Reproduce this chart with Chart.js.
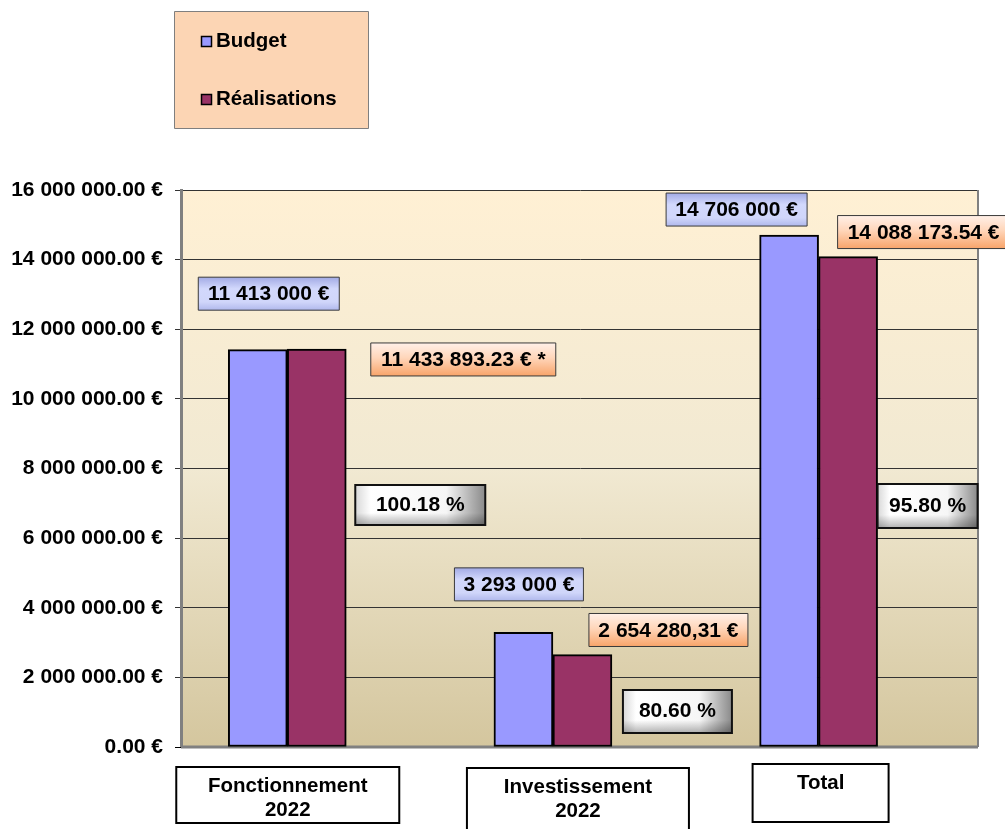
<!DOCTYPE html>
<html>
<head>
<meta charset="utf-8">
<script src="https://cdn.jsdelivr.net/npm/chart.js@4.4.1/dist/chart.umd.min.js"></script>
<style>
  html, body { margin: 0; padding: 0; background: #fff; }
  #wrap { width: 1005px; height: 829px; }
</style>
</head>
<body>
<div id="wrap"><canvas id="chart" width="1005" height="829"></canvas></div>
<script>
// Chart data.
var categories = [['Fonctionnement', '2022'], ['Investissement', '2022'], ['Total']];
var seriesNames = ['Budget', 'Réalisations'];
var budget = [11413000, 3293000, 14706000];
var realisations = [11433893.23, 2654280.31, 14088173.54];
var realisationLabels = ['11 433 893.23 € *', '2 654 280,31 €', '14 088 173.54 €'];
var yTicks = [0, 2000000, 4000000, 6000000, 8000000, 10000000, 12000000, 14000000, 16000000];

// Label placement (pixels, relative to the top centre of the bar).
var budgetLabelPos = [{dx: 11, dy: -56, w: 141}, {dx: -4.5, dy: -48, w: 129}, {dx: -52.5, dy: -25.5, w: 141}];
var realLabelPos = [{dx: 146.5, dy: 10.5, w: 185}, {dx: 86, dy: -24.6, w: 159}, {dx: 75.5, dy: -24.5, w: 172}];
var pctLabelPos = [{dx: 103.5, dy: 156, w: 130, h: 40}, {dx: 95, dy: 57, w: 109, h: 43}, {dx: 79.5, dy: 249.5, w: 100, h: 44}];
// Category boxes under the plot (relative to the category centre).
var catBoxPos = [{dx: -111, top: 767, w: 223, h: 56}, {dx: -86, top: 768, w: 222, h: 70}, {dx: -66, top: 764, w: 136, h: 58}];

var FONT = '"Liberation Sans", Arial, Helvetica, sans-serif';
var colors = ['#9999FF', '#993366'];

function fmtSpaces(v, dec) {
    var parts = v.toFixed(dec).split('.');
    var intPart = parts[0].replace(/\B(?=(\d{3})+(?!\d))/g, ' ');
    return intPart + (dec ? '.' + parts[1] : '');
}

function boxPath(ctx, x, y, w, h) {
    ctx.beginPath();
    ctx.rect(x, y, w, h);
}

// Plot background gradient and right/bottom frame.
var plotFrame = {
    id: 'plotFrame',
    beforeDraw: function(chart) {
        var a = chart.chartArea, ctx = chart.ctx;
        var g = ctx.createLinearGradient(0, a.top, 0, a.bottom);
        g.addColorStop(0, '#FFF0D4');
        g.addColorStop(0.5, '#F1E9D2');
        g.addColorStop(1, '#D4C69E');
        ctx.save();
        ctx.fillStyle = g;
        ctx.fillRect(a.left, a.top, a.right - a.left, a.bottom - a.top);
        ctx.restore();
    },
    beforeDatasetsDraw: function(chart) {
        var a = chart.chartArea, ctx = chart.ctx;
        ctx.save();
        ctx.strokeStyle = '#808080';
        ctx.lineWidth = 2;
        ctx.beginPath();
        ctx.moveTo(a.right, a.top);
        ctx.lineTo(a.right, a.bottom);
        ctx.stroke();
        ctx.lineWidth = 3;
        ctx.beginPath();
        ctx.moveTo(a.left, a.bottom);
        ctx.lineTo(a.right, a.bottom);
        ctx.stroke();
        ctx.strokeStyle = '#000';
        ctx.lineWidth = 1;
        ctx.beginPath();
        ctx.moveTo(a.left - 6, a.bottom + 0.5);
        ctx.lineTo(a.left, a.bottom + 0.5);
        ctx.stroke();
        ctx.restore();
    }
};

// Value labels, percentage labels, category boxes and legend.
var annotations = {
    id: 'annotations',
    afterDatasetsDraw: function(chart) {
        var ctx = chart.ctx;
        var metaB = chart.getDatasetMeta(0), metaR = chart.getDatasetMeta(1);
        ctx.save();
        ctx.textAlign = 'center';
        ctx.textBaseline = 'middle';

        budget.forEach(function(v, i) {
            var bar = metaB.data[i], p = budgetLabelPos[i];
            var h = 33, x = bar.x + p.dx - p.w / 2, y = bar.y + p.dy - h / 2;
            var g = ctx.createLinearGradient(0, y, 0, y + h);
            g.addColorStop(0, '#A2AAE4');
            g.addColorStop(0.35, '#D2D8FC');
            g.addColorStop(0.75, '#D0D6FA');
            g.addColorStop(1, '#B0B8EC');
            boxPath(ctx, x, y, p.w, h);
            ctx.fillStyle = g; ctx.fill();
            ctx.strokeStyle = '#3a3a3a'; ctx.lineWidth = 1; ctx.stroke();
            ctx.fillStyle = '#000';
            ctx.font = 'bold 21px ' + FONT;
            ctx.fillText(fmtSpaces(v, 0) + ' €', x + p.w / 2, y + h / 2 + 1);
        });

        realisations.forEach(function(v, i) {
            var bar = metaR.data[i], p = realLabelPos[i];
            var h = 33, x = bar.x + p.dx - p.w / 2, y = bar.y + p.dy - h / 2;
            var g = ctx.createLinearGradient(0, y, 0, y + h);
            g.addColorStop(0, '#FFF0E8');
            g.addColorStop(0.45, '#FFD6BA');
            g.addColorStop(1, '#F8A46A');
            boxPath(ctx, x, y, p.w, h);
            ctx.fillStyle = g; ctx.fill();
            ctx.strokeStyle = '#3a3a3a'; ctx.lineWidth = 1; ctx.stroke();
            ctx.fillStyle = '#000';
            ctx.font = 'bold 21px ' + FONT;
            ctx.fillText(realisationLabels[i], x + p.w / 2, y + h / 2 + 1);
        });

        realisations.forEach(function(v, i) {
            var bar = metaR.data[i], p = pctLabelPos[i];
            var x = bar.x + p.dx - p.w / 2, y = bar.y + p.dy - p.h / 2;
            var g = ctx.createLinearGradient(x, 0, x + p.w, 0);
            g.addColorStop(0, '#D8D8D8');
            g.addColorStop(0.12, '#FFFFFF');
            g.addColorStop(0.7, '#F6F6F6');
            g.addColorStop(1, '#8A8A8A');
            boxPath(ctx, x, y, p.w, p.h);
            ctx.fillStyle = g; ctx.fill();
            var g2 = ctx.createLinearGradient(0, y, 0, y + p.h);
            g2.addColorStop(0, 'rgba(0,0,0,0)');
            g2.addColorStop(0.7, 'rgba(0,0,0,0)');
            g2.addColorStop(1, 'rgba(0,0,0,0.3)');
            ctx.fillStyle = g2; ctx.fill();
            ctx.strokeStyle = '#111'; ctx.lineWidth = 2; ctx.stroke();
            ctx.fillStyle = '#000';
            ctx.font = 'bold 21px ' + FONT;
            ctx.fillText((v / budget[i] * 100).toFixed(2) + ' %', x + p.w / 2, y + p.h / 2);
        });

        // Category boxes below the axis.
        var xs = chart.scales.x;
        categories.forEach(function(lines, i) {
            var p = catBoxPos[i];
            var cx = xs.getPixelForValue(i + 1);
            var x = cx + p.dx;
            boxPath(ctx, x, p.top, p.w, p.h);
            ctx.fillStyle = '#fff'; ctx.fill();
            ctx.strokeStyle = '#000'; ctx.lineWidth = 2; ctx.stroke();
            ctx.fillStyle = '#000';
            ctx.font = 'bold 20.5px ' + FONT;
            lines.forEach(function(t, k) {
                ctx.fillText(t, x + p.w / 2, p.top + 19 + k * 24);
            });
        });

        // Legend.
        ctx.fillStyle = '#FCD5B4';
        boxPath(ctx, 174.5, 11.5, 194, 117);
        ctx.fill();
        ctx.strokeStyle = '#7f7f7f'; ctx.lineWidth = 1; ctx.stroke();
        ctx.textAlign = 'left';
        ctx.font = 'bold 20.5px ' + FONT;
        [41, 99].forEach(function(cy, k) {
            boxPath(ctx, 201.5, cy - 4.5, 10, 10);
            ctx.fillStyle = colors[k]; ctx.fill();
            ctx.strokeStyle = '#000'; ctx.lineWidth = 1.5; ctx.stroke();
            ctx.fillStyle = '#000';
            ctx.fillText(seriesNames[k], 216, cy);
        });
        ctx.restore();
    }
};

var ctx = document.getElementById('chart').getContext('2d');
var chart = new Chart(ctx, {
    type: 'bar',
    data: {
        datasets: [{
            label: seriesNames[0],
            data: budget.map(function(v, i) { return {x: i + 1, y: v}; }),
            backgroundColor: colors[0],
            borderColor: '#000',
            borderWidth: 2,
            borderSkipped: false
        }, {
            label: seriesNames[1],
            data: realisations.map(function(v, i) { return {x: i + 1, y: v}; }),
            backgroundColor: colors[1],
            borderColor: '#000',
            borderWidth: 2,
            borderSkipped: false
        }]
    },
    options: {
        responsive: false,
        animation: false,
        barThickness: 59,
        layout: {
            padding: {top: 190, right: 27, bottom: 82, left: 0}
        },
        scales: {
            x: {
                type: 'linear',
                display: false,
                offset: false,
                grid: {offset: false},
                min: 0.6,
                max: 3.6,
                afterBuildTicks: function(scale) {
                    scale.ticks = categories.map(function(c, i) { return {value: i + 1}; });
                }
            },
            y: {
                min: 0,
                max: 16000000,
                afterBuildTicks: function(scale) {
                    scale.ticks = yTicks.map(function(v) { return {value: v}; });
                },
                afterFit: function(scale) {
                    scale.width = 181;
                },
                border: {display: true, color: '#808080', width: 3},
                grid: {color: '#333', lineWidth: 1, tickColor: '#333', tickLength: 6, drawTicks: true},
                ticks: {
                    padding: 12,
                    color: '#000',
                    font: {family: FONT, size: 21, weight: 'bold'},
                    callback: function(v) { return fmtSpaces(v, 2) + ' €'; }
                }
            }
        },
        plugins: {
            legend: {display: false},
            tooltip: {enabled: false}
        }
    },
    plugins: [plotFrame, annotations]
});
</script>
</body>
</html>
